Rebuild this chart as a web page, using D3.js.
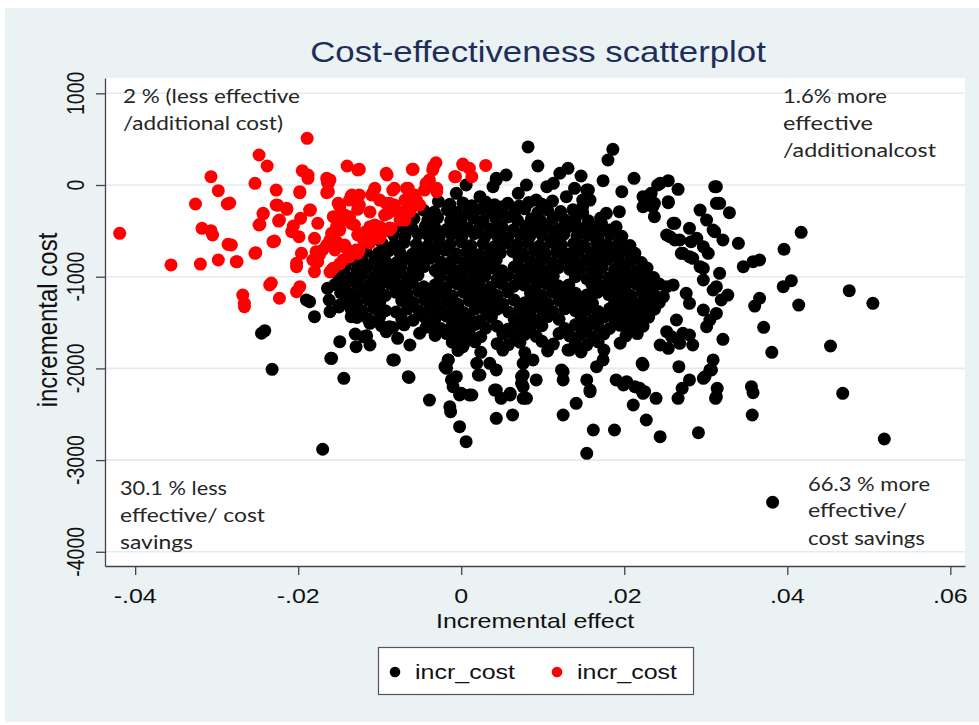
<!DOCTYPE html>
<html><head><meta charset="utf-8">
<script src="https://cdn.jsdelivr.net/npm/d3@7"></script>
<style>body{margin:0;background:#fff}svg{display:block}</style>
</head><body>
<svg id="chart" width="979" height="725"></svg>
<script>
// ---------- data ----------
const chartTitle = "Cost-effectiveness scatterplot";
const xAxisTitle = "Incremental effect";
const yAxisTitle = "incremental cost";
const xTicks = [-0.04, -0.02, 0, 0.02, 0.04, 0.06];
const xTickLabels = ["-.04", "-.02", "0", ".02", ".04", ".06"];
const yTicks = [-4000, -3000, -2000, -1000, 0, 1000];
const yTickLabels = ["-4000", "-3000", "-2000", "-1000", "0", "1000"];
const seriesNames = ["incr_cost", "incr_cost"];
const noteTopLeft = ["2 % (less effective", "/additional cost)"];
const noteTopRight = ["1.6% more", "effective", "/additionalcost"];
const noteBottomLeft = ["30.1 % less", "effective/ cost", "savings"];
const noteBottomRight = ["66.3 % more", "effective/", "cost savings"];

// dense black core, read row by row: [effects], [costs]
const blackCoreRows = [
 [[-0.0028,-0.0014,0.0002,0.0013,0.0030,0.0041,0.0057,0.0071,0.0083,0.0099,0.0112],
  [-180,-210,-195,-225,-185,-215,-200,-230,-190,-210,-175]],
 [[-0.0046,-0.0033,-0.0017,-0.0006,0.0009,0.0024,0.0036,0.0050,0.0066,0.0078,0.0094,0.0106,0.0122,0.0137,0.0149],
  [-275,-295,-270,-300,-285,-265,-305,-280,-290,-260,-300,-275,-290,-270,-300]],
 [[-0.0058,-0.0041,-0.0029,-0.0013,0.0000,0.0015,0.0027,0.0043,0.0057,0.0069,0.0086,0.0098,0.0113,0.0127,0.0140,0.0156,0.0171],
  [-365,-385,-355,-390,-370,-360,-395,-375,-350,-385,-370,-395,-360,-380,-370,-390,-360]],
 [[-0.0072,-0.0060,-0.0044,-0.0032,-0.0018,-0.0004,0.0008,0.0023,0.0037,0.0050,0.0064,0.0079,0.0091,0.0106,0.0119,0.0134,0.0147,0.0162,0.0174,0.0190],
  [-455,-475,-450,-470,-485,-455,-470,-445,-480,-460,-490,-450,-470,-455,-480,-450,-475,-460,-485,-455]],
 [[-0.0083,-0.0069,-0.0053,-0.0040,-0.0027,-0.0012,0.0001,0.0016,0.0029,0.0044,0.0057,0.0072,0.0084,0.0099,0.0113,0.0126,0.0142,0.0155,0.0168,0.0183,0.0197],
  [-545,-560,-535,-555,-570,-540,-560,-530,-565,-550,-575,-540,-560,-545,-570,-535,-560,-550,-575,-540,-560]],
 [[-0.0097,-0.0082,-0.0070,-0.0055,-0.0041,-0.0028,-0.0014,0.0000,0.0012,0.0027,0.0041,0.0054,0.0069,0.0082,0.0096,0.0110,0.0123,0.0138,0.0151,0.0166,0.0179,0.0193,0.0207],
  [-635,-655,-625,-650,-665,-630,-650,-620,-660,-640,-670,-630,-650,-635,-665,-625,-655,-640,-665,-630,-650,-640,-660]],
 [[-0.0117,-0.0102,-0.0089,-0.0075,-0.0060,-0.0048,-0.0033,-0.0020,-0.0006,0.0007,0.0021,0.0035,0.0048,0.0063,0.0076,0.0090,0.0103,0.0117,0.0131,0.0144,0.0159,0.0172,0.0186,0.0199,0.0213],
  [-725,-745,-715,-740,-755,-720,-740,-710,-750,-730,-760,-720,-740,-725,-755,-715,-745,-730,-755,-720,-740,-730,-750,-720,-745]],
 [[-0.0134,-0.0121,-0.0106,-0.0093,-0.0079,-0.0065,-0.0052,-0.0038,-0.0025,-0.0011,0.0003,0.0016,0.0030,0.0043,0.0071,0.0085,0.0098,0.0112,0.0126,0.0139,0.0153,0.0166,0.0180,0.0194,0.0207,0.0221],
  [-815,-835,-805,-830,-845,-810,-830,-800,-840,-820,-850,-810,-830,-815,-805,-835,-820,-845,-810,-830,-820,-840,-810,-835,-825,-845]],
 [[-0.0143,-0.0128,-0.0115,-0.0101,-0.0087,-0.0074,-0.0059,-0.0046,-0.0032,-0.0018,-0.0005,0.0010,0.0023,0.0037,0.0050,0.0065,0.0078,0.0092,0.0105,0.0119,0.0133,0.0146,0.0160,0.0173,0.0188,0.0201,0.0215,0.0228],
  [-905,-925,-895,-920,-935,-900,-920,-890,-930,-910,-940,-900,-920,-905,-935,-895,-925,-910,-935,-900,-920,-910,-930,-900,-925,-915,-935,-905]],
 [[-0.0150,-0.0136,-0.0122,-0.0108,-0.0095,-0.0081,-0.0067,-0.0053,-0.0026,-0.0012,0.0002,0.0016,0.0029,0.0044,0.0057,0.0071,0.0085,0.0098,0.0113,0.0140,0.0154,0.0167,0.0181,0.0195,0.0209,0.0222,0.0236],
  [-995,-1015,-985,-1010,-1025,-990,-1010,-980,-1000,-1030,-990,-1010,-995,-1025,-985,-1015,-1000,-1025,-990,-1000,-1020,-990,-1015,-1005,-1025,-995,-1010]],
 [[-0.0155,-0.0142,-0.0128,-0.0114,-0.0101,-0.0087,-0.0073,-0.0060,-0.0046,-0.0032,-0.0019,-0.0005,0.0009,0.0022,0.0036,0.0050,0.0064,0.0077,0.0091,0.0105,0.0119,0.0132,0.0160,0.0174,0.0187,0.0201,0.0215,0.0229,0.0243],
  [-1085,-1105,-1075,-1100,-1115,-1080,-1100,-1070,-1110,-1090,-1120,-1080,-1100,-1085,-1115,-1075,-1105,-1090,-1115,-1080,-1100,-1090,-1080,-1105,-1095,-1115,-1085,-1100,-1080]],
 [[-0.0148,-0.0134,-0.0121,-0.0107,-0.0093,-0.0080,-0.0066,-0.0052,-0.0039,-0.0025,-0.0011,0.0003,0.0016,0.0030,0.0044,0.0057,0.0085,0.0099,0.0112,0.0126,0.0140,0.0154,0.0167,0.0181,0.0195,0.0208,0.0222,0.0236],
  [-1175,-1195,-1165,-1190,-1205,-1170,-1190,-1160,-1200,-1180,-1210,-1170,-1190,-1175,-1205,-1165,-1180,-1205,-1170,-1190,-1180,-1200,-1170,-1195,-1185,-1205,-1175,-1190]],
 [[-0.0142,-0.0128,-0.0114,-0.0100,-0.0073,-0.0059,-0.0045,-0.0032,-0.0018,-0.0004,0.0010,0.0023,0.0037,0.0051,0.0065,0.0078,0.0092,0.0106,0.0120,0.0133,0.0147,0.0161,0.0188,0.0202,0.0216,0.0230,0.0243],
  [-1265,-1285,-1255,-1280,-1260,-1280,-1250,-1290,-1270,-1300,-1260,-1280,-1265,-1295,-1255,-1285,-1270,-1295,-1260,-1280,-1270,-1290,-1285,-1275,-1295,-1265,-1280]],
 [[-0.0135,-0.0121,-0.0107,-0.0093,-0.0080,-0.0066,-0.0052,-0.0038,-0.0025,-0.0011,0.0003,0.0017,0.0030,0.0044,0.0058,0.0072,0.0085,0.0099,0.0113,0.0127,0.0140,0.0154,0.0168,0.0182,0.0195,0.0209,0.0223,0.0237],
  [-1355,-1375,-1345,-1370,-1385,-1350,-1370,-1340,-1380,-1360,-1390,-1350,-1370,-1355,-1385,-1345,-1375,-1360,-1385,-1350,-1370,-1360,-1380,-1350,-1375,-1365,-1385,-1355]],
 [[-0.0128,-0.0114,-0.0100,-0.0073,-0.0059,-0.0045,-0.0032,-0.0018,-0.0004,0.0010,0.0023,0.0037,0.0065,0.0078,0.0092,0.0106,0.0120,0.0147,0.0161,0.0175,0.0188,0.0202,0.0216,0.0230],
  [-1445,-1465,-1435,-1460,-1475,-1440,-1460,-1430,-1470,-1450,-1480,-1440,-1460,-1445,-1475,-1435,-1465,-1450,-1475,-1440,-1460,-1450,-1470,-1440]],
 [[-0.0098,-0.0084,-0.0070,-0.0043,-0.0025,-0.0011,0.0003,0.0017,0.0030,0.0044,0.0058,0.0072,0.0085,0.0099,0.0127,0.0140,0.0154,0.0168,0.0182,0.0195,0.0209,0.0223],
  [-1535,-1555,-1525,-1550,-1565,-1530,-1550,-1520,-1560,-1540,-1570,-1530,-1550,-1535,-1565,-1525,-1555,-1540,-1565,-1530,-1550,-1540]],
 [[-0.0130,-0.0116,-0.0032,-0.0018,-0.0004,0.0010,0.0024,0.0051,0.0065,0.0078,0.0092,0.0120,0.0133,0.0147,0.0161,0.0175,0.0202,0.0216],
  [-1625,-1645,-1640,-1620,-1650,-1630,-1655,-1625,-1645,-1630,-1650,-1620,-1645,-1630,-1655,-1625,-1645,-1620]],
 [[-0.0011,0.0003,0.0017,0.0044,0.0058,0.0072,0.0099,0.0113,0.0140,0.0154,0.0168,0.0195],
  [-1715,-1735,-1710,-1730,-1740,-1715,-1705,-1735,-1720,-1745,-1710,-1725]],
 [[-0.0004,0.0024,0.0051,0.0078,0.0106,0.0147,0.0175],
  [-1805,-1825,-1800,-1830,-1810,-1820,-1800]]
];

// scattered black points around the core
const blackFringe = [
 [0.0082,415],[0.0094,207],[0.0186,389],[0.0180,273],[0.0212,73],[0.0131,182],[0.0121,128],[0.0147,98],[0.0174,47],[0.0197,-73],
 [0.0043,73],[0.0055,109],[0.0080,0],[0.0070,-91],[0.0105,-18],[0.0113,18],[0.0139,-36],[0.0156,-55],[0.0223,-127],[0.0233,-91],
 [0.0241,0],[0.0006,0],[-0.0006,-91],[0.0023,-127],[0.0051,-236],[0.0092,-164],[0.0129,-127],[0.0149,-164],[0.0178,-309],[0.0194,-291],
 [0.0223,-236],[0.0237,-345],[0.0043,55],[0.0039,-18],[0.0244,18],[0.0254,47],[0.0266,-47],[0.0311,-18],[0.0231,-109],[0.0237,-200],
 [0.0254,-182],[0.0293,-273],[0.0301,-382],[0.0313,-200],[0.0262,-418],[0.0280,-472],[0.0289,-581],[0.0309,-491],[0.0256,-563],[0.0262,-600],
 [0.0272,-745],[0.0280,-782],[0.0297,-672],[0.0303,-745],[0.0293,-891],[0.0297,-1036],[0.0309,-1145],[0.0276,-1181],[0.0280,-1290],[0.0252,-1109],
 [0.0260,-1090],[0.0248,-1218],[0.0297,-1363],[0.0305,-1472],[0.0264,-1472],[0.0272,-1617],[0.0223,-1309],[0.0203,-1508],[0.0252,-1600],[0.0203,-963],
 [0.0211,-1036],[0.0182,-745],[0.0194,-672],[0.0172,-418],[0.0182,-491],[0.0154,-55],[0.0158,-164],[0.0149,-236],[0.0313,-18],[0.0317,-200],
 [0.0329,-302],[0.0311,-509],[0.0321,-600],[0.0340,-636],[0.0417,-516],[0.0396,-701],[0.0346,-891],[0.0358,-836],[0.0366,-818],[0.0395,-1109],
 [0.0405,-1043],[0.0476,-1152],[0.0505,-1290],[0.0414,-1309],[0.0282,-618],[0.0284,-800],[0.0297,-909],[0.0317,-963],[0.0313,-1109],[0.0260,-418],
 [0.0268,-600],[0.0252,-545],[0.0270,-745],[0.0327,-1200],[0.0319,-1254],[0.0229,-127],[0.0235,-236],[0.0254,-193],
 [0.0360,-1320],[0.0366,-1236],[0.0371,-1552],[0.0381,-1825],[0.0453,-1756],[0.0468,-2272],[0.0519,-2770],[0.0382,-3460],[0.0356,-2199],[0.0358,-2265],
 [0.0357,-2508],[0.0321,-1683],[0.0309,-1908],[0.0307,-2017],[0.0299,-2090],[0.0314,-2217],[0.0312,-2326],[0.0280,-2126],[0.0271,-2217],[0.0266,-2326],
 [0.0267,-1981],[0.0291,-2701],[0.0244,-2745],[0.0227,-2563],[0.0225,-2254],[0.0239,-2326],[0.0222,-1945],[0.0313,-1400],[0.0301,-1545],[0.0284,-1745],
 [0.0268,-1727],[0.0254,-1781],[0.0244,-1745],[0.0280,-1636],[0.0258,-1654],
 [-0.0149,-1709],[-0.0159,-1890],[-0.0144,-2108],[-0.0129,-1763],[-0.0120,-1654],[-0.0112,-1745],[-0.0084,-1908],[-0.0065,-2090],[-0.0063,-1745],[-0.0039,-2345],
 [-0.0014,-2418],[-0.0016,-1908],[-0.0020,-1981],[-0.0002,-2636],[0.0006,-2799],[-0.0010,-2199],[0.0000,-2272],[0.0010,-2290],[-0.0006,-2090],[0.0021,-2072],
 [0.0043,-2236],[0.0049,-2326],[0.0060,-2290],[0.0043,-2544],[0.0063,-2508],[0.0074,-2090],[0.0076,-2199],[0.0080,-2326],[0.0092,-2126],[0.0076,-1945],
 [0.0088,-1908],[0.0043,-2017],[0.0035,-1945],[0.0019,-1945],[0.0123,-2017],[0.0125,-2126],[0.0131,-1799],[0.0125,-2508],[0.0141,-2381],[0.0154,-2926],
 [0.0162,-2672],[0.0188,-2672],[0.0154,-2126],[0.0158,-2236],[0.0166,-1981],[0.0174,-1908],[0.0190,-2126],[0.0203,-2145],[0.0213,-2199],[0.0211,-2399],
 [0.0223,-1963],[0.0223,-2272],[0.0297,-2108],[0.0305,-2017],[0.0313,-2308],[0.0199,-2181],[0.0219,-2217],[0.0013,-2290],[0.0041,-2236],[0.0060,-2272],
 [0.0076,-2326],[0.0074,-2163],[0.0076,-2072],[0.0125,-2036],[0.0158,-2254],[0.0133,-1799],[0.0023,-2072],
 [-0.0245,-1617],[-0.0241,-1589],[-0.0232,-2010],[-0.0170,-2882],[-0.0180,-1436],[-0.0160,-1890],[-0.0135,-1436],[-0.0122,-1418],[-0.0112,-1508],[-0.0092,-1600],
 [-0.0088,-1545],[-0.0082,-1908],[-0.0064,-2099],[-0.0078,-1672],[-0.0013,-2472],[-0.0016,-1908],[-0.0018,-1999],[-0.0012,-2126],[-0.0002,-2290],[0.0002,-1763],
 [0.0006,-1654],[0.0010,-1581],[-0.0012,-1581],[-0.0039,-1545],[-0.0051,-1617],[-0.0161,-1381],[-0.0149,-1309],[-0.0186,-1272],[-0.0190,-1254],[-0.0164,-1127],
 [-0.0162,-1254],[-0.0150,-1330]
];

// red points
const redPoints = [
 [-0.0419,-527],[-0.0356,-872],[-0.0320,-862],[-0.0298,-818],[-0.0275,-836],[-0.0307,91],[-0.0298,-62],[-0.0326,-207],[-0.0287,-207],[-0.0318,-472],
 [-0.0307,-498],[-0.0305,-545],[-0.0286,-647],[-0.0252,-738],[-0.0229,-611],[-0.0253,18],[-0.0248,327],[-0.0238,207],[-0.0227,-55],[-0.0225,-221],
 [-0.0214,-254],[-0.0243,-316],[-0.0247,-429],[-0.0224,-393],[-0.0206,-447],[-0.0197,-363],[-0.0189,509],[-0.0195,156],[-0.0188,73],[-0.0198,-84],
 [-0.0185,-273],[-0.0165,73],[-0.0164,27],[-0.0165,-84],[-0.0140,207],[-0.0134,-109],[-0.0127,164],[-0.0180,-581],[-0.0199,-564],[-0.0196,-745],
 [-0.0202,-891],[-0.0182,-818],[-0.0180,-945],[-0.0159,-927],[-0.0170,-709],[-0.0235,-1090],[-0.0233,-1070],[-0.0223,-1235],[-0.0202,-1163],[-0.0268,-1200],
 [-0.0266,-1290],[-0.0188,109],[-0.0163,18],[-0.0092,128],[-0.0060,171],[-0.0031,243],[-0.0035,164],[0.0002,218],[0.0010,182],[-0.0007,91],
 [-0.0039,55],[-0.0043,0],[-0.0030,-36],[-0.0198,-73],[-0.0163,-73],[-0.0135,-127],[-0.0106,-36],[-0.0110,-109],[-0.0084,-55],[-0.0067,-36],
 [-0.0061,-164],[-0.0055,-218],[-0.0092,-200],[-0.0227,-218],[-0.0214,-265],[-0.0186,-273],[-0.0151,-200],[-0.0127,-265],[-0.0284,-196],[-0.0243,-309],
 [-0.0223,-382],[-0.0176,-418],[-0.0157,-345],[-0.0145,-382],[-0.0135,-418],[-0.0112,-454],[-0.0100,-454],[-0.0086,-472],[-0.0075,-382],[-0.0071,-291],
 [-0.0248,-436],[-0.0208,-509],[-0.0159,-527],[-0.0153,-618],[-0.0127,-545],[-0.0120,-600],[-0.0110,-545],[-0.0096,-509],[-0.0231,-618],[-0.0282,-654],
 [-0.0253,-745],[-0.0178,-727],[-0.0165,-654],[-0.0141,-690],[-0.0127,-745],[-0.0276,-836],[-0.0202,-854],[-0.0176,-836],[-0.0157,-909],[-0.0198,-1109],
 [-0.0266,-1327],[0.0013,91],[-0.0008,91],[0.0030,214],[-0.0161,55],[-0.0135,-120],[-0.0108,-80],[-0.0082,-36],[-0.0065,-36],[-0.0043,18],
 [-0.0030,-73],[-0.0088,-200],[-0.0090,-309],[-0.0063,-236],[-0.0055,-164],[-0.0069,-382],[-0.0149,-236],[-0.0137,-345],[-0.0153,-454],[-0.0120,-527],
 [-0.0100,-581],[-0.0088,-491],[-0.0129,-709],[-0.0145,-818],[-0.0125,171],[-0.0091,109],[-0.0059,171],[-0.0034,200],[0.0002,229],
 [-0.0051,-218],[-0.0063,-294],[-0.0088,-469],[-0.0100,-556],[-0.0112,-632],[-0.0125,-709],[-0.0137,-785],[-0.0149,-861],[-0.0161,-949],
 [-0.0137,-164],[-0.0125,-218],[-0.0112,-294],[-0.0143,-327],[-0.0131,-436],[-0.0118,-513],[-0.0149,-491],[-0.0161,-600],[-0.0143,-654],[-0.0174,-763],
 [-0.0155,-709],[-0.0100,-164],[-0.0082,-218],[-0.0069,-164],[-0.0094,-327],[-0.0078,-294],[-0.0106,-436],[-0.0125,-109],[-0.0057,-109],[-0.0045,-55]
];

// ---------- drawing ----------
const svg = d3.select("#chart");
const W = 979, H = 725;
const plot = {left: 105, right: 965, top: 78, bottom: 566};

const x = d3.scaleLinear().domain([-0.0437, 0.0618]).range([plot.left, plot.right]);
const y = d3.scaleLinear().domain([-4155, 1167]).range([plot.bottom, plot.top]);

const blackPoints = [];
blackCoreRows.forEach(([xs, ys]) => xs.forEach((v, i) => blackPoints.push([v, ys[i]])));
blackFringe.forEach(p => blackPoints.push(p));

// panel background
svg.append("rect").attr("x", 5).attr("y", 8).attr("width", W - 5).attr("height", 714).attr("fill", "#eaf2f3");
svg.append("rect").attr("x", plot.left).attr("y", plot.top)
  .attr("width", plot.right - plot.left).attr("height", plot.bottom - plot.top).attr("fill", "#ffffff");

// gridlines
svg.append("g").selectAll("line").data(yTicks).join("line")
  .attr("x1", plot.left).attr("x2", plot.right)
  .attr("y1", d => y(d)).attr("y2", d => y(d))
  .attr("stroke", "#e1ecef").attr("stroke-width", 1.6);

// points
const R = 6.5;
svg.append("g").selectAll("circle").data(blackPoints).join("circle")
  .attr("cx", d => x(d[0])).attr("cy", d => y(d[1])).attr("r", R).attr("fill", "#000");
svg.append("g").selectAll("circle").data(redPoints).join("circle")
  .attr("cx", d => x(d[0])).attr("cy", d => y(d[1])).attr("r", R).attr("fill", "#ff0000");

// axes
const axisColor = "#444";
const gx = svg.append("g").attr("transform", `translate(0,${plot.bottom})`)
  .call(d3.axisBottom(x).tickValues(xTicks).tickSize(9).tickSizeOuter(0).tickFormat(""));
const gy = svg.append("g").attr("transform", `translate(${plot.left},0)`)
  .call(d3.axisLeft(y).tickValues(yTicks).tickSize(9).tickSizeOuter(0).tickFormat(""));
[gx, gy].forEach(g => {
  g.select(".domain").attr("stroke", axisColor).attr("stroke-width", 1.3);
  g.selectAll(".tick line").attr("stroke", axisColor).attr("stroke-width", 1.3);
});

const SX = 1.19;
const armFont = "'Liberation Sans', Arial, sans-serif";
// tick labels
svg.append("g").selectAll("text").data(xTicks).join("text")
  .attr("transform", d => `translate(${x(d)},603) scale(${SX},1)`)
  .attr("text-anchor", "middle").attr("font-family", armFont).attr("font-size", 21).attr("fill", "#111")
  .text((d, i) => xTickLabels[i]);
svg.append("g").selectAll("text").data(yTicks).join("text")
  .attr("transform", d => `translate(84,${y(d)}) scale(${SX},1) rotate(-90)`)
  .attr("text-anchor", "middle").attr("font-family", armFont).attr("font-size", 19.5).attr("fill", "#111")
  .text((d, i) => yTickLabels[i]);

// titles
svg.append("text").attr("transform", `translate(538,62) scale(1.2,1)`)
  .attr("text-anchor", "middle").attr("font-family", armFont).attr("font-size", 29).attr("fill", "#1f2d5a")
  .text(chartTitle);
svg.append("text").attr("transform", `translate(${(plot.left + plot.right) / 2},628) scale(${SX},1)`)
  .attr("text-anchor", "middle").attr("font-family", armFont).attr("font-size", 21).attr("fill", "#111")
  .text(xAxisTitle);
svg.append("text").attr("transform", `translate(57,320) scale(${SX},1) rotate(-90)`)
  .attr("text-anchor", "middle").attr("font-family", armFont).attr("font-size", 24).attr("fill", "#111")
  .text(yAxisTitle);

// quadrant notes
const noteFont = "Lato, 'Open Sans', sans-serif";
function note(lines, x0, baselines, widths) {
  const g = svg.append("g");
  lines.forEach((t, i) => {
    g.append("text").attr("x", x0).attr("y", baselines[i])
      .attr("font-family", noteFont).attr("font-size", 18.5).attr("fill", "#262626")
      .attr("textLength", widths[i]).attr("lengthAdjust", "spacingAndGlyphs")
      .text(t);
  });
}
note(noteTopLeft, 123, [103, 130], [177, 160]);
note(noteTopRight, 783, [103, 130, 157], [104, 90, 153]);
note(noteBottomLeft, 120, [495, 522, 549], [107, 145, 73]);
note(noteBottomRight, 808, [491, 517, 545], [122, 99, 117]);

// legend
const lg = svg.append("g");
lg.append("rect").attr("x", 378.5).attr("y", 647.5).attr("width", 315).attr("height", 47)
  .attr("fill", "#fff").attr("stroke", "#555").attr("stroke-width", 1.2);
const legendColors = ["#000", "#ff0000"];
const legendX = [395, 557];
seriesNames.forEach((name, i) => {
  lg.append("circle").attr("cx", legendX[i]).attr("cy", 672).attr("r", 5.3).attr("fill", legendColors[i]);
  lg.append("text").attr("transform", `translate(${legendX[i] + 20},679) scale(${SX},1)`)
    .attr("font-family", armFont).attr("font-size", 21).attr("fill", "#111").text(name);
});
</script>
</body></html>
